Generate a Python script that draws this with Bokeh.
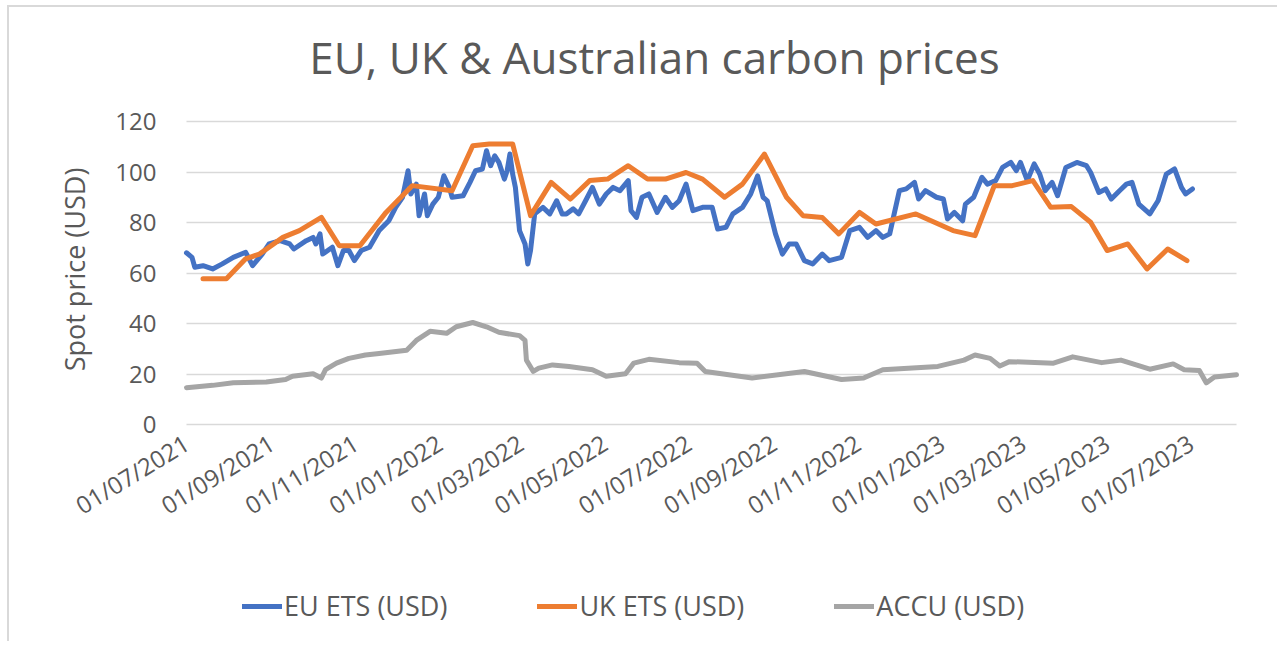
import math
import pandas as pd
from bokeh.plotting import figure
from bokeh.models import (Range1d, FixedTicker, DatetimeTickFormatter, Legend, LegendItem, Label, Grid)
from bokeh.embed import file_html
from bokeh.resources import INLINE

# ---------------- data ----------------
eu_dates = [
    "2021-07-01", "2021-07-05", "2021-07-07", "2021-07-13", "2021-07-20", "2021-07-27", "2021-08-04",
    "2021-08-13", "2021-08-18", "2021-08-25", "2021-08-30", "2021-09-07", "2021-09-14", "2021-09-17",
    "2021-09-26", "2021-10-01", "2021-10-03", "2021-10-06", "2021-10-08", "2021-10-15", "2021-10-19",
    "2021-10-23", "2021-10-27", "2021-10-31", "2021-11-05", "2021-11-11", "2021-11-18", "2021-11-25",
    "2021-11-30", "2021-12-05", "2021-12-09", "2021-12-11", "2021-12-15", "2021-12-17", "2021-12-21",
    "2021-12-23", "2021-12-27", "2021-12-31", "2022-01-04", "2022-01-08", "2022-01-10", "2022-01-18",
    "2022-01-23", "2022-01-27", "2022-02-01", "2022-02-04", "2022-02-07", "2022-02-10", "2022-02-13",
    "2022-02-17", "2022-02-19", "2022-02-21", "2022-02-23", "2022-02-25", "2022-02-28", "2022-03-04",
    "2022-03-06", "2022-03-08", "2022-03-11", "2022-03-17", "2022-03-22", "2022-03-27", "2022-03-31",
    "2022-04-03", "2022-04-08", "2022-04-12", "2022-04-17", "2022-04-22", "2022-04-27", "2022-05-02",
    "2022-05-07", "2022-05-12", "2022-05-18", "2022-05-20", "2022-05-24", "2022-05-28", "2022-06-02",
    "2022-06-08", "2022-06-14", "2022-06-19", "2022-06-24", "2022-06-29", "2022-07-04", "2022-07-11",
    "2022-07-18", "2022-07-22", "2022-07-28", "2022-08-02", "2022-08-09", "2022-08-15", "2022-08-20",
    "2022-08-24", "2022-08-27", "2022-09-02", "2022-09-07", "2022-09-12", "2022-09-17", "2022-09-23",
    "2022-09-29", "2022-10-06", "2022-10-11", "2022-10-20", "2022-10-26", "2022-11-02", "2022-11-08",
    "2022-11-14", "2022-11-19", "2022-11-24", "2022-12-01", "2022-12-06", "2022-12-12", "2022-12-15",
    "2022-12-20", "2022-12-28", "2023-01-02", "2023-01-05", "2023-01-10", "2023-01-16", "2023-01-18",
    "2023-01-24", "2023-01-30", "2023-02-03", "2023-02-09", "2023-02-14", "2023-02-20", "2023-02-24",
    "2023-02-27", "2023-03-04", "2023-03-09", "2023-03-13", "2023-03-17", "2023-03-22", "2023-03-26",
    "2023-04-01", "2023-04-09", "2023-04-16", "2023-04-19", "2023-04-25", "2023-04-30", "2023-05-04",
    "2023-05-10", "2023-05-15", "2023-05-19", "2023-05-24", "2023-06-01", "2023-06-07", "2023-06-13",
    "2023-06-19", "2023-06-24", "2023-06-27", "2023-07-02",
]
eu_values = [
    68.0, 66.2, 62.3, 62.9, 61.6, 63.6, 66.2,
    68.2, 62.9, 67.5, 71.5, 72.8, 71.5, 69.5,
    72.8, 74.1, 71.5, 75.5, 67.5, 70.2, 62.9,
    68.9, 68.9, 64.9, 68.9, 70.2, 76.8, 80.7,
    86.0, 90.0, 100.5, 91.3, 95.2, 82.7, 91.3,
    82.7, 87.3, 90.0, 98.5, 93.9, 90.0, 90.6,
    95.9, 100.5, 101.2, 108.4, 102.5, 106.4, 103.8,
    97.2, 100.5, 107.1, 99.2, 93.9, 76.8, 71.5,
    63.6, 68.9, 83.4, 86.0, 83.4, 88.6, 83.4,
    83.4, 85.4, 83.4, 88.6, 93.9, 87.3, 91.3,
    93.9, 92.6, 96.6, 84.7, 82.0, 90.0, 91.3,
    84.0, 90.0, 86.0, 88.6, 95.2, 84.7, 86.0,
    86.0, 77.4, 78.1, 83.4, 86.0, 91.3, 98.5,
    90.0, 88.6, 75.5, 67.5, 71.5, 71.5, 64.9,
    63.6, 67.5, 64.9, 66.2, 76.8, 78.1, 74.1,
    76.8, 74.1, 75.5, 92.6, 93.3, 95.9, 89.3,
    92.6, 90.0, 89.3, 81.4, 84.0, 80.7, 87.3,
    90.0, 97.9, 95.2, 96.6, 101.8, 103.8, 100.5,
    103.8, 96.6, 103.2, 99.2, 92.6, 95.9, 90.6,
    101.8, 103.8, 102.5, 99.8, 91.9, 93.3, 89.3,
    92.6, 95.2, 95.9, 87.3, 83.4, 88.6, 99.2,
    101.2, 93.9, 91.3, 93.3,
]

uk_dates = [
    "2021-07-13", "2021-07-30", "2021-08-13", "2021-08-23", "2021-09-09", "2021-09-21", "2021-10-07",
    "2021-10-20", "2021-11-04", "2021-11-23", "2021-12-12", "2022-01-10", "2022-01-25", "2022-02-06",
    "2022-02-23", "2022-03-08", "2022-03-23", "2022-04-06", "2022-04-20", "2022-05-03", "2022-05-18",
    "2022-06-01", "2022-06-14", "2022-06-29", "2022-07-11", "2022-07-27", "2022-08-09", "2022-08-25",
    "2022-09-10", "2022-09-22", "2022-10-06", "2022-10-18", "2022-11-02", "2022-11-14", "2022-12-13",
    "2023-01-09", "2023-01-25", "2023-02-08", "2023-02-21", "2023-03-08", "2023-03-21", "2023-04-05",
    "2023-04-19", "2023-05-01", "2023-05-16", "2023-05-30", "2023-06-14", "2023-06-28",
]
uk_values = [
    57.7, 57.7, 65.6, 67.5, 74.1, 76.8, 82.0,
    70.8, 70.8, 84.0, 94.6, 92.6, 110.4, 111.1,
    111.1, 82.7, 95.9, 89.3, 96.6, 97.2, 102.5,
    97.2, 97.2, 99.8, 97.2, 90.0, 95.2, 107.1,
    90.0, 82.7, 82.0, 75.5, 84.0, 79.4, 83.4,
    76.8, 74.8, 94.6, 94.6, 96.6, 86.0, 86.3,
    80.1, 68.9, 71.5, 61.6, 69.5, 64.9,
]

accu_dates = [
    "2021-07-01", "2021-07-20", "2021-08-04", "2021-08-28", "2021-09-11", "2021-09-16", "2021-10-01",
    "2021-10-07", "2021-10-10", "2021-10-18", "2021-10-27", "2021-11-08", "2021-11-18", "2021-12-08",
    "2021-12-15", "2021-12-25", "2022-01-06", "2022-01-13", "2022-01-25", "2022-02-04", "2022-02-13",
    "2022-02-28", "2022-03-04", "2022-03-05", "2022-03-10", "2022-03-14", "2022-03-24", "2022-04-05",
    "2022-04-22", "2022-05-02", "2022-05-16", "2022-05-22", "2022-06-02", "2022-06-24", "2022-07-07",
    "2022-07-13", "2022-08-16", "2022-09-23", "2022-10-20", "2022-11-05", "2022-11-19", "2022-12-29",
    "2023-01-17", "2023-01-25", "2023-02-05", "2023-02-12", "2023-02-19", "2023-03-23", "2023-04-06",
    "2023-04-27", "2023-05-11", "2023-06-01", "2023-06-18", "2023-06-26", "2023-07-07", "2023-07-12",
    "2023-07-18", "2023-08-03",
]
accu_values = [
    14.6, 15.5, 16.5, 16.8, 17.8, 19.1, 20.1,
    18.4, 21.7, 24.3, 26.2, 27.5, 28.1, 29.4,
    33.3, 36.9, 36.1, 38.7, 40.4, 38.7, 36.5,
    35.2, 33.3, 25.5, 21.0, 22.3, 23.6, 23.0,
    21.7, 19.1, 20.1, 24.3, 25.8, 24.5, 24.3,
    21.0, 18.4, 21.0, 17.8, 18.4, 21.7, 23.0,
    25.5, 27.5, 26.2, 23.2, 24.9, 24.3, 26.8,
    24.5, 25.5, 21.9, 24.0, 21.7, 21.4, 16.5,
    18.8, 19.7,
]

x_tick_labels = [
    "01/07/2021", "01/09/2021", "01/11/2021", "01/01/2022", "01/03/2022", "01/05/2022", "01/07/2022",
    "01/09/2022", "01/11/2022", "01/01/2023", "01/03/2023", "01/05/2023", "01/07/2023",
]
y_ticks = [0, 20, 40, 60, 80, 100, 120]
series_names = ["EU ETS (USD)", "UK ETS (USD)", "ACCU (USD)"]
series_colors = ["#4472C4", "#ED7D31", "#A5A5A5"]
chart_title = "EU, UK & Australian carbon prices"
y_title = "Spot price (USD)"

# ---------------- layout geometry (pixels) ----------------
FONT = "Open Sans"
TXT = "#595959"
W, H = 1270, 636                 # canvas size
PAD_L, PAD_R = 177, 43           # canvas edge -> start / end of the date range
PAD_T, PAD_B = 114, 219          # canvas edge -> value 120 / value 0

x_start = pd.Timestamp("2021-07-01")
x_end = pd.Timestamp("2023-08-03")
DAY = 86400000.0
start_ms = x_start.value / 1e6
end_ms = x_end.value / 1e6
px_per_day = (W - PAD_L - PAD_R) / ((end_ms - start_ms) / DAY)
y_lo, y_hi = y_ticks[0], y_ticks[-1]
px_per_unit = (H - PAD_T - PAD_B) / (y_hi - y_lo)

x_range = Range1d(start_ms - PAD_L / px_per_day * DAY, end_ms + PAD_R / px_per_day * DAY)
y_range = Range1d(y_lo - PAD_B / px_per_unit, y_hi + PAD_T / px_per_unit)

def x_at(px_from_start):
    return start_ms + px_from_start / px_per_day * DAY

def y_at(px_above_zero):
    return y_lo + px_above_zero / px_per_unit

p = figure(width=W, height=H, x_axis_type="datetime", title=None,
           x_range=x_range, y_range=y_range,
           output_backend="svg", toolbar_location=None, min_border=0)
p.styles = {"border-left": "2px solid #d9d9d9", "border-top": "2px solid #d9d9d9",
            "margin-left": "7px", "margin-top": "5px"}
p.outline_line_color = None
p.background_fill_color = "white"
p.border_fill_color = "white"

# x axis sits on the zero line, y axis on the first date
tick_ms = [pd.to_datetime(s, format="%d/%m/%Y").value / 1e6 for s in x_tick_labels]
p.xaxis.ticker = FixedTicker(ticks=tick_ms)
fmt = "%d/%m/%Y"
p.xaxis.formatter = DatetimeTickFormatter(milliseconds=fmt, seconds=fmt, minsec=fmt, minutes=fmt,
                                          hourmin=fmt, hours=fmt, days=fmt, months=fmt, years=fmt)
p.xaxis.major_label_orientation = 0.55
p.xaxis.fixed_location = y_lo
p.yaxis.ticker = FixedTicker(ticks=y_ticks)
p.yaxis.fixed_location = start_ms

for ax in (p.xaxis, p.yaxis):
    ax.axis_line_color = None
    ax.major_tick_line_color = None
    ax.minor_tick_line_color = None
    ax.major_label_text_font = FONT
    ax.major_label_text_color = TXT
p.xaxis.major_label_text_font_size = "24px"
p.yaxis.major_label_text_font_size = "24px"
p.xaxis.major_label_standoff = 10
p.yaxis.major_label_standoff = 24

p.xgrid.grid_line_color = None
p.ygrid.grid_line_color = "#d9d9d9"
p.ygrid.grid_line_width = 1.6
if "cross_bounds" in Grid.properties():
    p.ygrid.cross_bounds = (start_ms, end_ms)

# chart title and value-axis title
p.add_layout(Label(x=x_at(468), y=y_at(424 - 56), text=chart_title,
                   text_font=FONT, text_font_size="44px", text_color=TXT,
                   text_align="center", text_baseline="alphabetic"))
p.add_layout(Label(x=x_at(75 - 187), y=y_at(424 - 269), text=y_title, angle=math.pi / 2,
                   text_font=FONT, text_font_size="27px", text_color=TXT,
                   text_align="center", text_baseline="middle"))

# series
all_dates = [eu_dates, uk_dates, accu_dates]
all_values = [eu_values, uk_values, accu_values]
renderers = []
for d, v, c in zip(all_dates, all_values, series_colors):
    r = p.line(pd.to_datetime(d), v, line_color=c, line_width=5,
               line_join="round", line_cap="round")
    renderers.append(r)

legend = Legend(items=[LegendItem(label=n, renderers=[r]) for n, r in zip(series_names, renderers)],
                orientation="horizontal", location=(233, 19),
                label_text_font=FONT, label_text_font_size="27px", label_text_color=TXT,
                glyph_width=40, glyph_height=30, label_standoff=2, spacing=90,
                padding=0, margin=0, border_line_color=None, background_fill_alpha=0)
p.add_layout(legend)

open("out.html", "w").write(file_html(p, INLINE))
